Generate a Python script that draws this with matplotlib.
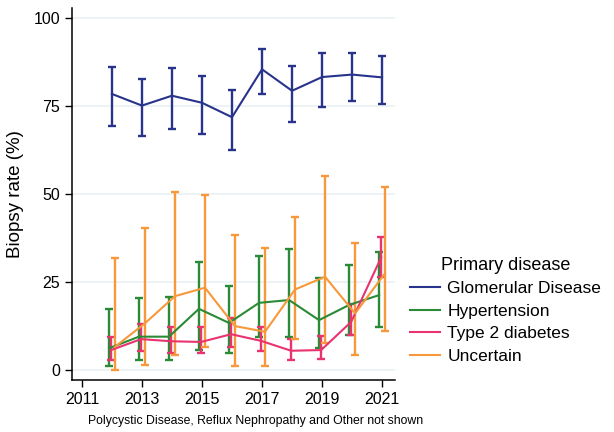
import numpy as np
import matplotlib
matplotlib.use("Agg")
import matplotlib.pyplot as plt

plt.rcParams['font.family'] = ['Liberation Sans', 'DejaVu Sans']

years = np.arange(2012, 2022)

glom = [78.4, 75.1, 77.9, 75.9, 71.8, 85.4, 79.3, 83.2, 83.9, 83.1]
glom_lo = [69.3, 66.4, 68.5, 67.0, 62.6, 78.4, 70.4, 74.8, 76.5, 75.5]
glom_hi = [86.1, 82.6, 85.9, 83.5, 79.6, 91.2, 86.4, 89.9, 89.9, 89.1]

hyp = [6.2, 9.5, 9.5, 17.4, 13.4, 19.1, 19.9, 14.2, 18.5, 21.3]
hyp_lo = [1.2, 2.8, 2.8, 5.7, 4.9, 9.3, 9.5, 6.2, 9.9, 12.2]
hyp_hi = [17.4, 20.5, 20.9, 30.8, 23.9, 32.4, 34.4, 26.2, 29.8, 33.4]

t2d = [5.7, 8.8, 8.2, 8.0, 10.2, 8.3, 5.5, 5.7, 13.7, 32.0]
t2d_lo = [2.8, 5.5, 5.0, 5.0, 6.6, 5.3, 3.0, 3.3, 9.9, 26.5]
t2d_hi = [9.5, 13.1, 12.3, 12.3, 14.9, 12.3, 8.7, 9.7, 18.9, 37.9]

unc = [6.6, 13.3, 21.0, 23.4, 12.5, 10.9, 22.9, 26.5, 16.1, 27.5]
unc_lo = [0.0, 1.4, 4.4, 6.6, 1.3, 1.1, 8.7, 7.6, 4.3, 11.1]
unc_hi = [31.8, 40.3, 50.7, 49.7, 38.3, 34.7, 43.6, 55.1, 36.0, 52.1]

series = [
    ("Glomerular Disease", glom, glom_lo, glom_hi, '#28338c', 0.0),
    ("Hypertension", hyp, hyp_lo, hyp_hi, '#2a8a35', -0.1),
    ("Type 2 diabetes", t2d, t2d_lo, t2d_hi, '#e8336f', -0.03),
    ("Uncertain", unc, unc_lo, unc_hi, '#f7983a', 0.1),
]

fig = plt.figure(figsize=(6.14, 4.32), dpi=100)
ax = fig.add_axes([72/614, 1 - 380/432, (395 - 72)/614, (380 - 8)/432])

for yv in [0, 25, 50, 75, 100]:
    ax.axhline(yv, color='#eaf1f3', lw=1.2, zorder=0)

for name, val, lo, hi, col, off in series:
    x = years + off
    val = np.array(val)
    err = [val - np.array(lo), np.array(hi) - val]
    ax.errorbar(x, val, yerr=err, fmt='none', ecolor=col, elinewidth=1.7,
                capsize=3, capthick=1.7, zorder=2)
    ax.plot(x, val, color=col, lw=1.5, label=name, zorder=3)

ax.set_xlim(2010.67, 2021.43)
ax.set_ylim(-2.8, 102.8)
ax.set_xticks([2011, 2013, 2015, 2017, 2019, 2021])
ax.set_yticks([0, 25, 50, 75, 100])
ax.tick_params(labelsize=11.5, length=5, width=1, colors='black')
ax.spines['top'].set_visible(False)
ax.spines['right'].set_visible(False)
ax.spines['left'].set_linewidth(1.1)
ax.spines['bottom'].set_linewidth(1.1)
ax.set_ylabel('Biopsy rate (%)', fontsize=13.5)
ax.yaxis.set_label_coords(-0.15, 0.5)

fig.legend(loc='upper left', bbox_to_anchor=(410/614, 1 - 257/432),
           title='Primary disease', title_fontsize=13, fontsize=12.5,
           frameon=False, handlelength=1.7, handletextpad=0.45,
           labelspacing=0.42, borderpad=0, borderaxespad=0)

fig.text(88/614, 1 - 421/432, 'Polycystic Disease, Reflux Nephropathy and Other not shown',
         fontsize=8.8, va='center', ha='left')

fig.savefig('out.png', dpi=100, facecolor='white')
